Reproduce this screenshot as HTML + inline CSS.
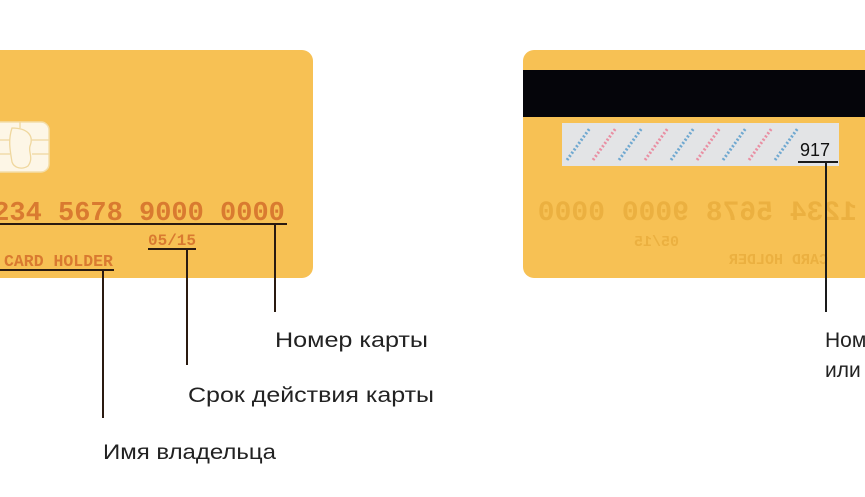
<!DOCTYPE html>
<html><head><meta charset="utf-8"><style>
html,body{margin:0;padding:0;background:#fff;width:865px;height:497px;overflow:hidden}
</style></head><body>
<svg width="865" height="497" viewBox="0 0 865 497" xmlns="http://www.w3.org/2000/svg">
<rect x="-20" y="50" width="333" height="228" rx="11" fill="#F7C154"/>
<rect x="523" y="50" width="370" height="228" rx="11" fill="#F7C154"/>
<!-- chip -->
<g stroke="#F3DDA8" stroke-width="1.5" fill="#FDF6E6">
<rect x="-10" y="122" width="59" height="50" rx="8"/>
</g>
<path d="M12 128 C28 128 34 136 30 146 C28 152 34 158 28 166 C22 170 14 168 12 162 C10 150 8 140 12 128Z" fill="none" stroke="#EFD79E" stroke-width="1.3"/>
<path d="M-10 140 H10 M-10 154 H10 M32 140 H49 M32 154 H49 M20 122 V128" stroke="#EFD79E" stroke-width="1.3"/>
<!-- front text -->
<g font-family="Liberation Mono, monospace" font-weight="bold" fill="#D97A30">
<text x="-23" y="220" font-size="27">1234 5678 9000 0000</text>
<text x="148" y="245" font-size="16">05/15</text>
<text x="4" y="266" font-size="16.5">CARD HOLDER</text>
</g>
<g stroke="#2a1a10" stroke-width="2" fill="none">
<path d="M0 224 H287 M275 224 V312"/>
<path d="M148 249 H196 M187 249 V365"/>
<path d="M0 270 H114 M103 270 V418"/>
</g>
<!-- back -->
<rect x="523" y="70" width="345" height="47" fill="#05050A"/>
<defs><clipPath id="c"><rect x="562" y="123" width="277" height="43"/></clipPath></defs>
<rect x="562" y="123" width="277" height="43" fill="#E3E4E6"/>
<g clip-path="url(#c)" stroke-width="3" stroke-dasharray="2 2">
<path d="M567 160 L590 128" stroke="#6FA8D0"/>
<path d="M593 160 L616 128" stroke="#E98FA3"/>
<path d="M619 160 L642 128" stroke="#6FA8D0"/>
<path d="M645 160 L668 128" stroke="#E98FA3"/>
<path d="M671 160 L694 128" stroke="#6FA8D0"/>
<path d="M697 160 L720 128" stroke="#E98FA3"/>
<path d="M723 160 L746 128" stroke="#6FA8D0"/>
<path d="M749 160 L772 128" stroke="#E98FA3"/>
<path d="M775 160 L798 128" stroke="#6FA8D0"/>
</g>
<text x="800" y="156" font-family="Liberation Sans, sans-serif" font-size="18" fill="#111">917</text>
<g font-family="Liberation Mono, monospace" font-weight="bold" fill="#EBB040" transform="scale(-1,1)">
<text x="-857" y="220" font-size="28">1234 5678 9000 0000</text>
<text x="-679" y="246" font-size="15">05/15</text>
<text x="-828" y="264" font-size="15">CARD HOLDER</text>
</g>
<path d="M798 162 H838 M826 162 V312" stroke="#1a1a1a" stroke-width="2" fill="none"/>
<!-- labels -->
<g font-family="Liberation Sans, 'Noto Sans CJK SC', sans-serif" font-size="21" fill="#222">
<text x="275" y="347" textLength="153" lengthAdjust="spacingAndGlyphs">Номер карты</text>
<text x="188" y="402" textLength="246" lengthAdjust="spacingAndGlyphs">Срок действия карты</text>
<text x="103" y="459" textLength="173" lengthAdjust="spacingAndGlyphs">Имя владельца</text>
<text x="825" y="347">Номер</text>
<text x="825" y="377">или</text>
</g>
</svg>
</body></html>
